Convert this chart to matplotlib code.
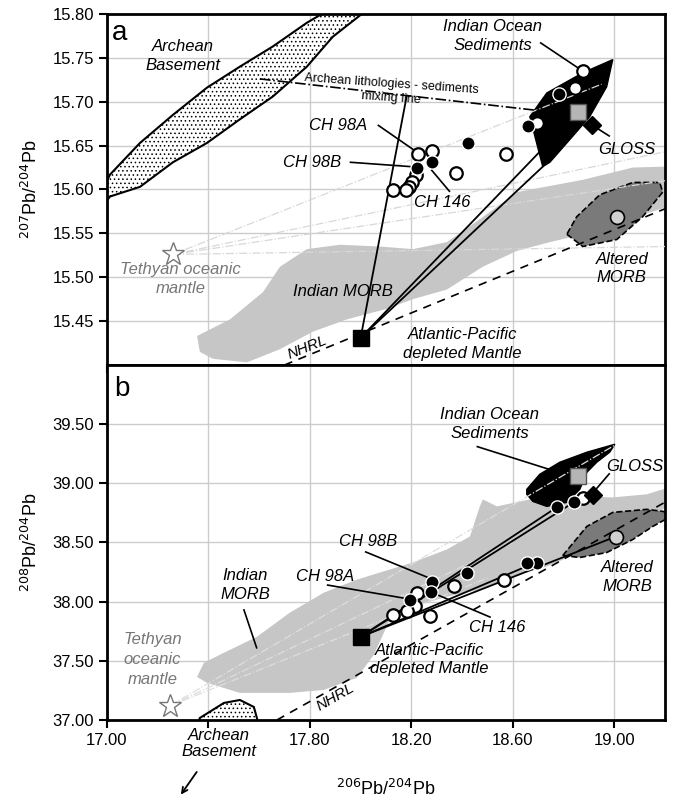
import matplotlib
matplotlib.use("Agg")
import matplotlib.pyplot as plt
import numpy as np
from matplotlib.patches import Polygon

plt.rcParams['font.family'] = ['Liberation Sans', 'DejaVu Sans']
plt.rcParams['hatch.linewidth'] = 0.6

# ---------------- panel a : 207Pb/204Pb vs 206Pb/204Pb ----------------
a_open_x = [18.876, 18.844, 18.695, 18.572, 18.375, 18.281, 18.226, 18.218, 18.202, 18.190, 18.178, 18.127]
a_open_y = [15.735, 15.716, 15.676, 15.641, 15.619, 15.644, 15.641, 15.616, 15.609, 15.603, 15.599, 15.599]
a_fill_x = [18.781, 18.659, 18.423, 18.281, 18.222]
a_fill_y = [15.709, 15.672, 15.653, 15.631, 15.625]
a_altered = (19.01, 15.569)
a_dm = (18.00, 15.431)
a_tethys = (17.26, 15.526)
a_sed_avg = (18.856, 15.688)
a_gloss = (18.911, 15.674)

a_archean_x = [16.90, 17.012, 17.130, 17.260, 17.394, 17.524, 17.654, 17.788, 17.847, 17.95,
               18.05, 18.009, 17.890, 17.788, 17.654, 17.524, 17.394, 17.260, 17.130, 17.012, 16.90]
a_archean_y = [15.55, 15.617, 15.653, 15.685, 15.716, 15.740, 15.763, 15.790, 15.800, 15.83,
               15.83, 15.801, 15.774, 15.740, 15.706, 15.680, 15.653, 15.631, 15.603, 15.592, 15.55]
a_sed_x = [18.718, 18.667, 18.734, 18.876, 18.994, 18.970, 18.903, 18.825, 18.746]
a_sed_y = [15.626, 15.683, 15.710, 15.733, 15.748, 15.717, 15.683, 15.657, 15.631]
a_morb_x = [17.366, 17.355, 17.485, 17.615, 17.682, 17.788, 17.918, 18.076, 18.206, 18.340, 18.470,
            18.616, 18.876, 19.073, 19.191, 19.24, 19.24, 19.010, 18.876, 18.746, 18.616, 18.482,
            18.340, 18.206, 18.103, 17.946, 17.812, 17.682, 17.552, 17.418]
a_morb_y = [15.415, 15.433, 15.452, 15.483, 15.512, 15.532, 15.537, 15.535, 15.532, 15.540, 15.566,
            15.597, 15.611, 15.625, 15.626, 15.626, 15.583, 15.562, 15.549, 15.540, 15.530, 15.512,
            15.486, 15.475, 15.464, 15.452, 15.438, 15.418, 15.403, 15.407]
a_alt_x = [18.813, 18.876, 19.010, 19.112, 19.191, 19.179, 19.073, 18.943, 18.852]
a_alt_y = [15.549, 15.535, 15.543, 15.569, 15.597, 15.608, 15.608, 15.594, 15.569]
a_nhrl_x = [17.70, 19.20]
a_nhrl_y = [15.400, 15.578]
a_arch_mix_x = [17.603, 18.852]
a_arch_mix_y = [15.726, 15.685]
a_dm_end_x = [18.182, 18.718, 18.856]
a_dm_end_y = [15.707, 15.626, 15.688]
a_teth_end_x = [18.95, 19.2, 19.2, 19.2]
a_teth_end_y = [15.720, 15.643, 15.610, 15.535]

# ---------------- panel b : 208Pb/204Pb vs 206Pb/204Pb ----------------
b_open_x = [18.876, 18.565, 18.367, 18.222, 18.214, 18.182, 18.273, 18.127]
b_open_y = [38.880, 38.180, 38.136, 38.076, 37.960, 37.920, 37.880, 37.890]
b_fill_x = [18.773, 18.840, 18.695, 18.655, 18.419, 18.281, 18.277, 18.194]
b_fill_y = [38.797, 38.839, 38.330, 38.330, 38.246, 38.170, 38.085, 38.017]
b_altered = (19.006, 38.55)
b_dm = (18.00, 37.703)
b_tethys = (17.248, 37.119)
b_sed_avg = (18.856, 39.06)
b_gloss = (18.915, 38.90)

b_sed_x = [18.655, 18.655, 18.706, 18.785, 18.892, 19.002, 18.982, 18.931, 18.892, 18.864, 18.813, 18.734, 18.679]
b_sed_y = [38.907, 38.949, 39.076, 39.178, 39.263, 39.330, 39.263, 39.178, 39.093, 38.949, 38.839, 38.805, 38.847]
b_morb_x = [17.355, 17.382, 17.461, 17.591, 17.721, 17.855, 17.985, 18.076, 18.206, 18.340, 18.431, 18.470,
            18.482, 18.537, 18.667, 18.864, 18.994, 19.128, 19.191, 19.24, 19.24, 19.191, 18.994, 18.864,
            18.734, 18.600, 18.470, 18.340, 18.206, 18.115, 18.052, 17.985, 17.855, 17.721, 17.524, 17.394]
b_morb_y = [37.364, 37.483, 37.568, 37.703, 37.907, 38.076, 38.186, 38.246, 38.331, 38.441, 38.551, 38.805,
            38.864, 38.805, 38.864, 38.890, 38.881, 38.907, 38.949, 38.990, 38.820, 38.780, 38.525, 38.415,
            38.297, 38.212, 38.102, 38.042, 37.958, 37.847, 37.551, 37.356, 37.254, 37.229, 37.229, 37.314]
b_alt_x = [18.797, 18.892, 18.994, 19.128, 19.191, 19.24, 19.152, 19.073, 18.970, 18.864]
b_alt_y = [38.390, 38.636, 38.754, 38.780, 38.763, 38.740, 38.636, 38.525, 38.415, 38.373]
b_archean_x = [17.350, 17.366, 17.461, 17.524, 17.579, 17.591, 17.600]
b_archean_y = [36.900, 37.017, 37.144, 37.169, 37.110, 37.017, 36.900]
b_nhrl_x = [17.67, 19.20]
b_nhrl_y = [37.000, 38.840]
b_dm_end_x = [18.773, 18.840, 18.700, 19.006]
b_dm_end_y = [38.797, 38.839, 38.340, 38.550]
b_teth_end_x = [19.00, 18.60, 18.50]
b_teth_end_y = [39.32, 38.50, 38.20]

x_ticks = [17.00, 17.40, 17.80, 18.20, 18.60, 19.00]
x_ticklabels = ['17.00', '', '17.80', '18.20', '18.60', '19.00']
a_yticks = [15.45, 15.50, 15.55, 15.60, 15.65, 15.70, 15.75, 15.80]
b_yticks = [37.00, 37.50, 38.00, 38.50, 39.00, 39.50]

fig = plt.figure(figsize=(6.75, 7.99), dpi=100)
ax_a = fig.add_axes([0.1585, 0.5432, 0.8267, 0.4393])
ax_b = fig.add_axes([0.1585, 0.0989, 0.8267, 0.4443])

TXT = dict(fontsize=12, style='italic', ha='center', va='center')
GRAYTXT = dict(fontsize=12, style='italic', ha='center', va='center', color='#777777')


def base(ax, yticks, ylim):
    ax.set_xlim(17.0, 19.2)
    ax.set_ylim(*ylim)
    ax.set_xticks(x_ticks)
    ax.set_yticks(yticks)
    ax.grid(True, color='#cccccc', lw=1.0, zorder=0)
    ax.set_axisbelow(True)
    for s in ax.spines.values():
        s.set_linewidth(2.0)
    ax.tick_params(direction='out', length=6, width=1.5, labelsize=12)


def leader(ax, x0, y0, x1, y1):
    ax.plot([x0, x1], [y0, y1], color='k', lw=1.2, zorder=5)


def samples(ax, ox, oy, fx, fy):
    ax.plot(ox, oy, 'o', ms=9, mfc='white', mec='k', mew=1.6, zorder=7, ls='none')
    ax.plot(fx, fy, 'o', ms=9.5, mfc='k', mec='white', mew=1.0, zorder=8, ls='none')


# ---- panel a ----
base(ax_a, a_yticks, (15.40, 15.80))
ax_a.set_yticklabels(['%.2f' % v for v in a_yticks])
ax_a.tick_params(labelbottom=False)

ax_a.add_patch(Polygon(np.column_stack([a_morb_x, a_morb_y]), closed=True, fc='#c6c6c6', ec='none', zorder=1))
ax_a.add_patch(Polygon(np.column_stack([a_alt_x, a_alt_y]), closed=True, fc='#7a7a7a', ec='k', ls='--', lw=1.2, zorder=2))
ax_a.add_patch(Polygon(np.column_stack([a_archean_x, a_archean_y]), closed=True, fc='white', ec='k', lw=1.5,
                       hatch='....', zorder=2))
ax_a.add_patch(Polygon(np.column_stack([a_sed_x, a_sed_y]), closed=True, fc='k', ec='k', zorder=2))

for ex, ey in zip(a_teth_end_x, a_teth_end_y):
    ax_a.plot([a_tethys[0], ex], [a_tethys[1], ey], color='#d8d8d8', ls='-.', lw=0.9, zorder=3)
ax_a.plot(a_nhrl_x, a_nhrl_y, color='k', ls=(0, (5, 4)), lw=1.2, zorder=3)
ax_a.plot(a_arch_mix_x, a_arch_mix_y, color='k', ls='-.', lw=1.2, zorder=3)
for ex, ey in zip(a_dm_end_x, a_dm_end_y):
    ax_a.plot([a_dm[0], ex], [a_dm[1], ey], color='k', lw=1.3, zorder=4)

samples(ax_a, a_open_x, a_open_y, a_fill_x, a_fill_y)
ax_a.plot(*a_altered, 'o', ms=10, mfc='#d0d0d0', mec='k', mew=1.2, zorder=7)
ax_a.plot(*a_sed_avg, 's', ms=11, mfc='#b5b5b5', mec='#555555', mew=1.0, zorder=7)
ax_a.plot(*a_gloss, 'D', ms=9, mfc='k', mec='k', zorder=7)
ax_a.plot(*a_dm, 's', ms=12, mfc='k', mec='k', zorder=9)
ax_a.plot(*a_tethys, '*', ms=17, mfc='white', mec='#777777', mew=1.0, zorder=7)

ax_a.text(17.05, 15.778, 'a', fontsize=20, ha='center', va='center')
ax_a.text(17.30, 15.752, 'Archean\nBasement', linespacing=1.3, **TXT)
ax_a.text(18.52, 15.775, 'Indian Ocean\nSediments', linespacing=1.3, **TXT)
leader(ax_a, 18.71, 15.767, 18.86, 15.738)
ax_a.text(18.12, 15.712, 'Archean lithologies - sediments\nmixing line', fontsize=9, ha='center',
          va='center', rotation=-4, linespacing=1.2)
ax_a.text(17.91, 15.673, 'CH 98A', **TXT)
leader(ax_a, 18.07, 15.673, 18.21, 15.645)
ax_a.text(17.81, 15.631, 'CH 98B', **TXT)
leader(ax_a, 17.96, 15.631, 18.20, 15.626)
ax_a.text(18.32, 15.585, 'CH 146', **TXT)
leader(ax_a, 18.35, 15.598, 18.28, 15.622)
ax_a.text(19.05, 15.645, 'GLOSS', **TXT)
leader(ax_a, 18.92, 15.672, 18.98, 15.661)
ax_a.text(17.29, 15.498, 'Tethyan oceanic\nmantle', linespacing=1.4, **GRAYTXT)
ax_a.text(17.93, 15.484, 'Indian MORB', **TXT)
ax_a.text(19.03, 15.510, 'Altered\nMORB', linespacing=1.3, **TXT)
ax_a.text(18.40, 15.424, 'Atlantic-Pacific\ndepleted Mantle', linespacing=1.3, **TXT)
ax_a.text(17.79, 15.420, 'NHRL', fontsize=11, style='italic', ha='center', va='center', rotation=22)

# ---- panel b ----
base(ax_b, b_yticks, (37.0, 40.0))
ax_b.set_xticklabels(x_ticklabels)
ax_b.set_yticklabels(['%.2f' % v for v in b_yticks])

ax_b.add_patch(Polygon(np.column_stack([b_morb_x, b_morb_y]), closed=True, fc='#c6c6c6', ec='none', zorder=1))
ax_b.add_patch(Polygon(np.column_stack([b_alt_x, b_alt_y]), closed=True, fc='#7a7a7a', ec='k', ls='--', lw=1.2, zorder=2))
ax_b.add_patch(Polygon(np.column_stack([b_archean_x, b_archean_y]), closed=True, fc='white', ec='k', lw=1.5,
                       hatch='....', zorder=2))
ax_b.add_patch(Polygon(np.column_stack([b_sed_x, b_sed_y]), closed=True, fc='k', ec='k', zorder=2))

for ex, ey in zip(b_teth_end_x, b_teth_end_y):
    ax_b.plot([b_tethys[0], ex], [b_tethys[1], ey], color='#dedede', ls='-.', lw=0.9, zorder=3)
ax_b.plot(b_nhrl_x, b_nhrl_y, color='k', ls=(0, (5, 4)), lw=1.2, zorder=3)
for ex, ey in zip(b_dm_end_x, b_dm_end_y):
    ax_b.plot([b_dm[0], ex], [b_dm[1], ey], color='k', lw=1.3, zorder=4)

samples(ax_b, b_open_x, b_open_y, b_fill_x, b_fill_y)
ax_b.plot(*b_altered, 'o', ms=10, mfc='#d0d0d0', mec='k', mew=1.2, zorder=7)
ax_b.plot(*b_sed_avg, 's', ms=11, mfc='#b5b5b5', mec='#555555', mew=1.0, zorder=7)
ax_b.plot(*b_gloss, 'D', ms=9, mfc='k', mec='k', zorder=7)
ax_b.plot(*b_dm, 's', ms=12, mfc='k', mec='k', zorder=9)
ax_b.plot(*b_tethys, '*', ms=17, mfc='white', mec='#777777', mew=1.0, zorder=7)

ax_b.text(17.06, 39.80, 'b', fontsize=20, ha='center', va='center')
ax_b.text(18.51, 39.50, 'Indian Ocean\nSediments', linespacing=1.3, **TXT)
leader(ax_b, 18.46, 39.31, 18.77, 39.10)
ax_b.text(19.08, 39.14, 'GLOSS', **TXT)
leader(ax_b, 18.98, 39.08, 18.92, 38.93)
ax_b.text(18.03, 38.51, 'CH 98B', **TXT)
leader(ax_b, 18.02, 38.42, 18.27, 38.20)
ax_b.text(17.86, 38.21, 'CH 98A', **TXT)
leader(ax_b, 17.87, 38.14, 18.17, 38.03)
ax_b.text(18.54, 37.78, 'CH 146', **TXT)
leader(ax_b, 18.51, 37.87, 18.30, 38.06)
ax_b.text(17.545, 38.14, 'Indian\nMORB', linespacing=1.3, **TXT)
leader(ax_b, 17.54, 37.93, 17.59, 37.61)
ax_b.text(19.05, 38.21, 'Altered\nMORB', linespacing=1.3, **TXT)
ax_b.text(18.27, 37.51, 'Atlantic-Pacific\ndepleted Mantle', linespacing=1.3, **TXT)
ax_b.text(17.90, 37.19, 'NHRL', fontsize=11, style='italic', ha='center', va='center', rotation=30)
ax_b.text(17.18, 37.51, 'Tethyan\noceanic\nmantle', linespacing=1.4, **GRAYTXT)
ax_b.text(17.44, 36.80, 'Archean\nBasement', linespacing=1.1, clip_on=False, **TXT)
ax_b.annotate('', xy=(17.285, 36.35), xytext=(17.36, 36.58), annotation_clip=False,
              arrowprops=dict(arrowstyle='->', lw=1.3, color='k'))

ax_a.set_ylabel('$^{207}$Pb/$^{204}$Pb', fontsize=13, labelpad=8)
ax_b.set_ylabel('$^{208}$Pb/$^{204}$Pb', fontsize=13, labelpad=8)
ax_b.set_xlabel('$^{206}$Pb/$^{204}$Pb', fontsize=13, labelpad=22)

fig.savefig('out.png', dpi=100)
